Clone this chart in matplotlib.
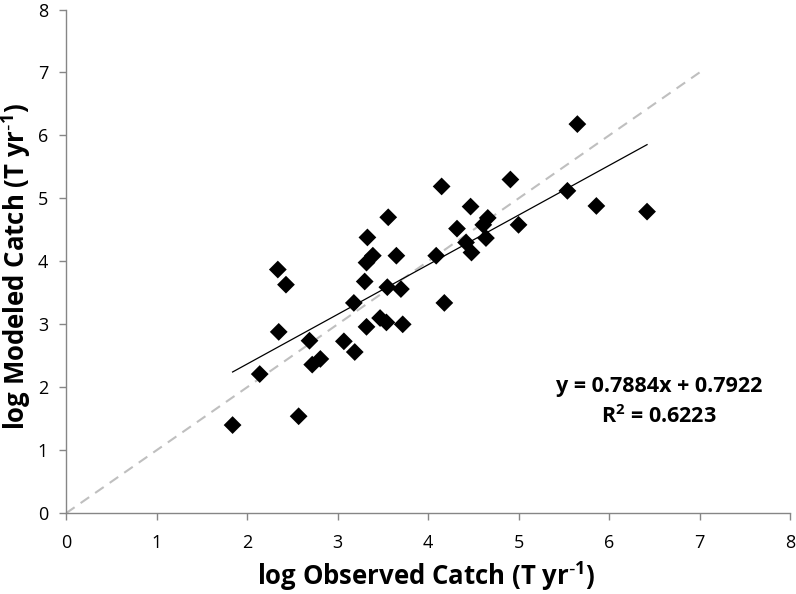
import numpy as np
import matplotlib.pyplot as plt

plt.rcParams['font.family'] = ['Open Sans', 'DejaVu Sans']
plt.rcParams['mathtext.default'] = 'regular'

# observed vs modeled catch (log T/yr)
obs = [1.84, 2.14, 2.34, 2.43, 2.35, 2.57, 2.69, 2.72, 2.81, 3.07,
       3.19, 3.18, 3.32, 3.47, 3.54, 3.72, 3.33, 3.39, 3.32, 3.30,
       3.56, 3.65, 3.55, 3.70, 4.15, 4.09, 4.18, 5.65, 4.91, 4.47,
       5.54, 5.86, 6.42, 4.32, 4.66, 4.61, 5.00, 4.42, 4.48, 4.64]
mod = [1.40, 2.21, 3.87, 3.63, 2.88, 1.54, 2.74, 2.36, 2.45, 2.73,
       2.56, 3.34, 2.96, 3.10, 3.03, 3.00, 4.38, 4.09, 3.98, 3.68,
       4.70, 4.09, 3.59, 3.56, 5.19, 4.09, 3.34, 6.18, 5.30, 4.87,
       5.12, 4.88, 4.79, 4.52, 4.69, 4.58, 4.58, 4.30, 4.14, 4.37]

slope, intercept, r2 = 0.7884, 0.7922, 0.6223
one_to_one = [0, 7]
ticks = list(range(0, 9))

fig = plt.figure(figsize=(7.96, 5.94), dpi=100)
ax = fig.add_axes([0.083, 0.136, 0.9095, 0.848])

# 1:1 line
ax.plot(one_to_one, one_to_one, color='#BFBFBF', lw=1.5, ls=(0, (5, 3.5)), zorder=1)

# linear fit over data range
xf = np.array([min(obs), max(obs)])
ax.plot(xf, slope * xf + intercept, color='black', lw=0.9, zorder=2)

ax.scatter(obs, mod, marker='D', s=82, color='black', edgecolor='none', zorder=3)

ax.set_xlim(0, 8)
ax.set_ylim(0, 8)
ax.set_xticks(ticks)
ax.set_yticks(ticks)
ax.tick_params(direction='out', length=5, width=1, color='#868686',
               labelsize=13, pad=8)
ax.tick_params(axis='x', pad=10)

for s in ['top', 'right']:
    ax.spines[s].set_visible(False)
for s in ['left', 'bottom']:
    ax.spines[s].set_color('#868686')
    ax.spines[s].set_linewidth(1)

ax.set_xlabel(r'log Observed Catch (T yr$^{\text{-}1}$)', fontsize=18.5,
              fontweight='bold')
ax.set_ylabel(r'log Modeled Catch (T yr$^{\text{-}1}$)', fontsize=18.5,
              fontweight='bold')
ax.xaxis.set_label_coords(0.497, -0.091)
ax.yaxis.set_label_coords(-0.046, 0.49)

ax.text(6.55, 1.77, f'y = {slope}x + {intercept}\nR$^2$ = {r2}',
        fontsize=15.5, fontweight='bold', ha='center', va='center',
        multialignment='center', linespacing=1.45)

fig.savefig('out.png', dpi=100)
